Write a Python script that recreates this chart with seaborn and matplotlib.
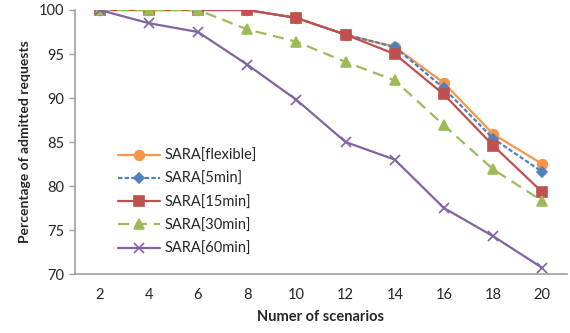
import matplotlib
matplotlib.use("Agg")
import matplotlib.pyplot as plt
import seaborn as sns
import pandas as pd

scenarios = [2, 4, 6, 8, 10, 12, 14, 16, 18, 20]
flexible = [100, 100, 100, 100, 99.1, 97.2, 95.8, 91.7, 85.9, 82.5]
min5 = [100, 100, 100, 100, 99.1, 97.2, 95.8, 91.1, 85.4, 81.6]
min15 = [100, 100, 100, 100, 99.1, 97.2, 95.0, 90.4, 84.6, 79.3]
min30 = [100, 100, 100, 97.8, 96.4, 94.1, 92.0, 86.9, 81.9, 78.3]
min60 = [100, 98.5, 97.5, 93.8, 89.8, 85.0, 83.0, 77.5, 74.3, 70.7]
names = ["SARA[flexible]", "SARA[5min]", "SARA[15min]", "SARA[30min]", "SARA[60min]"]
series = [flexible, min5, min15, min30, min60]

sns.set_style("white")
plt.rcParams['font.family'] = ['Lato', 'DejaVu Sans']

colors = ["#F79646", "#4F81BD", "#C0504D", "#9BBB59", "#8064A2"]
markers = ["o", "D", "s", "^", "x"]
dashes = [(None, None), (2, 1), (None, None), (5, 3), (None, None)]
msizes = [7, 5.5, 7, 7, 7.5]

fig = plt.figure(figsize=(5.70, 3.33), dpi=100)
ax = fig.add_axes([0.1316, 0.177, 0.863, 0.793])

for name, vals, c, m, d, ms in zip(names, series, colors, markers, dashes, msizes):
    df = pd.DataFrame({"x": scenarios, "y": vals})
    sns.lineplot(data=df, x="x", y="y", ax=ax, color=c, marker=m,
                 markersize=ms, linewidth=1.6, label=name,
                 markeredgecolor=c, markeredgewidth=1.2)
    if d[0] is not None:
        ax.lines[-1].set_dashes(d)

ax.set_xlim(1, 21)
ax.set_ylim(70, 100)
ax.set_xticks(scenarios)
ax.set_xticks(list(range(1, 22, 2)), minor=True)
ax.set_yticks([70, 75, 80, 85, 90, 95, 100])
ax.tick_params(axis="x", which="major", length=0, labelsize=10.5, pad=10)
ax.tick_params(axis="x", which="minor", length=4, color="#A0A0A0", width=1)
ax.tick_params(axis="y", length=4, color="#A0A0A0", width=1, labelsize=10.5, left=True, pad=4)
for s in ["top", "right"]:
    ax.spines[s].set_visible(False)
for s in ["left", "bottom"]:
    ax.spines[s].set_color("#A0A0A0")
    ax.spines[s].set_linewidth(1.2)

ax.set_xlabel("Numer of scenarios", fontsize=10.5, fontweight="bold", labelpad=6)
ax.set_ylabel("Percentage of admitted requests", fontsize=10, fontweight="bold", labelpad=5)

leg = ax.legend(loc="upper left", bbox_to_anchor=(0.075, 0.495), frameon=False,
                fontsize=10.5, handlelength=2.9, handletextpad=0.3,
                labelspacing=0.62, borderaxespad=0)

fig.savefig("out.png", dpi=100)
